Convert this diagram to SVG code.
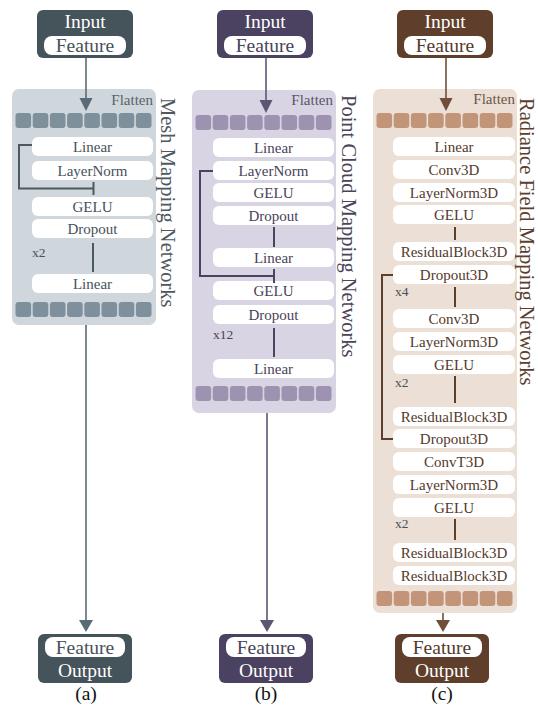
<svg xmlns="http://www.w3.org/2000/svg" xmlns:xlink="http://www.w3.org/1999/xlink" width="538" height="705" viewBox="0 0 538 705" font-family="'Liberation Serif', 'Times New Roman', serif">
<style>
text{font-family:'Liberation Serif','Times New Roman',serif;}
.blk{fill:#fff;}
.bt{font-size:15px;text-anchor:middle;}
.io{font-size:19.5px;text-anchor:middle;}
.wt{fill:#fff;}
.fl{font-size:15px;text-anchor:end;}
.rep{font-size:13.5px;}
.ttl{font-size:20.5px;}
.lab{font-size:19.5px;text-anchor:middle;fill:#111;}
.ta{fill:#46515a;} .tb{fill:#48425a;} .tc{fill:#54392b;}
.la{stroke:#4b5961;} .lb{stroke:#4b4460;} .lc{stroke:#5e3f2c;}
.ln{fill:none;stroke-width:2;}
.ar{fill:none;stroke-width:1.6;}
</style>
<defs>
<g id="row">
<rect x="0" y="0" width="15.6" height="15" rx="3"/>
<rect x="17.2" y="0" width="15.6" height="15" rx="3"/>
<rect x="34.4" y="0" width="15.6" height="15" rx="3"/>
<rect x="51.6" y="0" width="15.6" height="15" rx="3"/>
<rect x="68.8" y="0" width="15.6" height="15" rx="3"/>
<rect x="86" y="0" width="15.6" height="15" rx="3"/>
<rect x="103.2" y="0" width="15.6" height="15" rx="3"/>
<rect x="120.4" y="0" width="15.6" height="15" rx="3"/>
</g>
</defs>

<g id="panel-a">
<rect x="12" y="89" width="144" height="236" rx="7" fill="#cfd6dc"/>
<text class="fl" x="153" y="105" fill="#58646b">Flatten</text>
<use xlink:href="#row" x="15.5" y="113" fill="#7d909b"/>
<use xlink:href="#row" x="15.5" y="302" fill="#7d909b"/>
<text class="ttl" transform="translate(161,98) rotate(90)" fill="#4d585f">Mesh Mapping Networks</text>
<text class="rep ta" x="32" y="257">x2</text>
</g>
<g id="panel-b">
<rect x="192" y="90" width="144" height="323" rx="7" fill="#d9d4e3"/>
<text class="fl" x="333" y="105" fill="#5a5469">Flatten</text>
<use xlink:href="#row" x="195.5" y="115" fill="#9d93b1"/>
<use xlink:href="#row" x="195.5" y="386" fill="#9d93b1"/>
<text class="ttl" transform="translate(342,95) rotate(90)" fill="#4a4458">Point Cloud Mapping Networks</text>
<text class="rep tb" x="213" y="339">x12</text>
</g>
<g id="panel-c">
<rect x="373" y="89" width="144" height="524" rx="7" fill="#ebdfd6"/>
<text class="fl" x="515" y="104" fill="#6b5547">Flatten</text>
<use xlink:href="#row" x="376.5" y="113" fill="#c29579"/>
<use xlink:href="#row" x="376.5" y="591" fill="#c29579"/>
<text class="ttl" transform="translate(520,98) rotate(90)" fill="#5a3e2e">Radiance Field Mapping Networks</text>
<text class="rep ta" x="395" y="296">x4</text>
<text class="rep ta" x="395" y="387">x2</text>
<text class="rep ta" x="395" y="528">x2</text>
</g>

<g id="input-a">
<rect x="37" y="10" width="96" height="48" rx="6" fill="#45535b"/>
<text class="io wt" x="85" y="28">Input</text>
<rect x="44" y="36" width="82" height="19" rx="8" class="blk"/>
<text class="io ta" x="85" y="52">Feature</text>
</g>
<g id="input-b">
<rect x="217" y="10" width="96" height="48" rx="6" fill="#4b4262"/>
<text class="io wt" x="265" y="28">Input</text>
<rect x="224" y="36" width="82" height="19" rx="8" class="blk"/>
<text class="io tb" x="265" y="52">Feature</text>
</g>
<g id="input-c">
<rect x="397" y="10" width="96" height="48" rx="6" fill="#5f3f2b"/>
<text class="io wt" x="445" y="28">Input</text>
<rect x="404" y="36" width="82" height="19" rx="8" class="blk"/>
<text class="io tc" x="445" y="52">Feature</text>
</g>
<g id="output-a">
<rect x="38" y="634" width="94" height="49" rx="6" fill="#45535b"/>
<rect x="45" y="637" width="80" height="20" rx="8" class="blk"/>
<text class="io ta" x="85" y="654">Feature</text>
<text class="io wt" x="85" y="677">Output</text>
</g>
<g id="output-b">
<rect x="219" y="634" width="94" height="49" rx="6" fill="#4b4262"/>
<rect x="226" y="637" width="80" height="20" rx="8" class="blk"/>
<text class="io tb" x="266" y="654">Feature</text>
<text class="io wt" x="266" y="677">Output</text>
</g>
<g id="output-c">
<rect x="395" y="634" width="94" height="49" rx="6" fill="#5f3f2b"/>
<rect x="402" y="637" width="80" height="20" rx="8" class="blk"/>
<text class="io tc" x="442" y="654">Feature</text>
<text class="io wt" x="442" y="677">Output</text>
</g>

<g id="a-linear1"><rect class="blk" x="32" y="137" width="121" height="19" rx="6"/><text class="bt ta" x="92.5" y="151.5">Linear</text></g>
<g id="a-layernorm"><rect class="blk" x="32" y="161" width="121" height="19" rx="6"/><text class="bt ta" x="92.5" y="175.5">LayerNorm</text></g>
<g id="a-gelu"><rect class="blk" x="32" y="197" width="121" height="19" rx="6"/><text class="bt ta" x="92.5" y="211.5">GELU</text></g>
<g id="a-dropout"><rect class="blk" x="32" y="219" width="121" height="19" rx="6"/><text class="bt ta" x="92.5" y="233.5">Dropout</text></g>
<g id="a-linear2"><rect class="blk" x="32" y="274" width="121" height="19" rx="6"/><text class="bt ta" x="92.5" y="288.5">Linear</text></g>

<g id="b-linear1"><rect class="blk" x="213" y="138" width="121" height="19" rx="6"/><text class="bt tb" x="273.5" y="152.5">Linear</text></g>
<g id="b-layernorm"><rect class="blk" x="213" y="161" width="121" height="19" rx="6"/><text class="bt tb" x="273.5" y="175.5">LayerNorm</text></g>
<g id="b-gelu1"><rect class="blk" x="213" y="183" width="121" height="19" rx="6"/><text class="bt tb" x="273.5" y="197.5">GELU</text></g>
<g id="b-dropout1"><rect class="blk" x="213" y="206" width="121" height="19" rx="6"/><text class="bt tb" x="273.5" y="220.5">Dropout</text></g>
<g id="b-linear2"><rect class="blk" x="213" y="248" width="121" height="19" rx="6"/><text class="bt tb" x="273.5" y="262.5">Linear</text></g>
<g id="b-gelu2"><rect class="blk" x="213" y="281" width="121" height="19" rx="6"/><text class="bt tb" x="273.5" y="295.5">GELU</text></g>
<g id="b-dropout2"><rect class="blk" x="213" y="305" width="121" height="19" rx="6"/><text class="bt tb" x="273.5" y="319.5">Dropout</text></g>
<g id="b-linear3"><rect class="blk" x="213" y="359" width="121" height="19" rx="6"/><text class="bt tb" x="273.5" y="373.5">Linear</text></g>

<g id="c-linear"><rect class="blk" x="393" y="137" width="122" height="19" rx="6"/><text class="bt tc" x="454" y="151.5">Linear</text></g>
<g id="c-conv1"><rect class="blk" x="393" y="160" width="122" height="19" rx="6"/><text class="bt tc" x="454" y="174.5">Conv3D</text></g>
<g id="c-ln1"><rect class="blk" x="393" y="183" width="122" height="19" rx="6"/><text class="bt tc" x="454" y="197.5">LayerNorm3D</text></g>
<g id="c-gelu1"><rect class="blk" x="393" y="205" width="122" height="19" rx="6"/><text class="bt tc" x="454" y="219.5">GELU</text></g>
<g id="c-res1"><rect class="blk" x="393" y="242" width="122" height="19" rx="6"/><text class="bt tc" x="454" y="256.5">ResidualBlock3D</text></g>
<g id="c-drop1"><rect class="blk" x="393" y="265" width="122" height="19" rx="6"/><text class="bt tc" x="454" y="279.5">Dropout3D</text></g>
<g id="c-conv2"><rect class="blk" x="393" y="309" width="122" height="19" rx="6"/><text class="bt tc" x="454" y="323.5">Conv3D</text></g>
<g id="c-ln2"><rect class="blk" x="393" y="332" width="122" height="19" rx="6"/><text class="bt tc" x="454" y="346.5">LayerNorm3D</text></g>
<g id="c-gelu2"><rect class="blk" x="393" y="355" width="122" height="19" rx="6"/><text class="bt tc" x="454" y="369.5">GELU</text></g>
<g id="c-res2"><rect class="blk" x="393" y="407" width="122" height="19" rx="6"/><text class="bt tc" x="454" y="421.5">ResidualBlock3D</text></g>
<g id="c-drop2"><rect class="blk" x="393" y="429" width="122" height="19" rx="6"/><text class="bt tc" x="454" y="443.5">Dropout3D</text></g>
<g id="c-convt"><rect class="blk" x="393" y="452" width="122" height="19" rx="6"/><text class="bt tc" x="454" y="466.5">ConvT3D</text></g>
<g id="c-ln3"><rect class="blk" x="393" y="475" width="122" height="19" rx="6"/><text class="bt tc" x="454" y="489.5">LayerNorm3D</text></g>
<g id="c-gelu3"><rect class="blk" x="393" y="498" width="122" height="19" rx="6"/><text class="bt tc" x="454" y="512.5">GELU</text></g>
<g id="c-res3"><rect class="blk" x="393" y="543" width="122" height="19" rx="6"/><text class="bt tc" x="454" y="557.5">ResidualBlock3D</text></g>
<g id="c-res4"><rect class="blk" x="393" y="566" width="122" height="19" rx="6"/><text class="bt tc" x="454" y="580.5">ResidualBlock3D</text></g>

<g id="connectors">
<line class="ar" x1="86" y1="58" x2="86" y2="99" stroke="#5b6b75"/>
<polygon points="79.5,98 92.5,98 86,111" fill="#5b6b75"/>
<line class="ar" x1="86" y1="325" x2="86" y2="621" stroke="#5b6b75"/>
<polygon points="79,620 93,620 86,632" fill="#5b6b75"/>

<line class="ar" x1="266" y1="58" x2="266" y2="101" stroke="#5d5573"/>
<polygon points="259.5,100 272.5,100 266,113" fill="#5d5573"/>
<line class="ar" x1="267" y1="413" x2="267" y2="621" stroke="#5d5573"/>
<polygon points="260,620 274,620 267,632" fill="#5d5573"/>

<line class="ar" x1="446" y1="58" x2="446" y2="99" stroke="#6f4e3a"/>
<polygon points="439.5,98 452.5,98 446,111" fill="#6f4e3a"/>
<line class="ar" x1="443" y1="613" x2="443" y2="621" stroke="#6f4e3a"/>
<polygon points="436,620 450,620 443,632" fill="#6f4e3a"/>

<path class="ln la" d="M32,145 H19 V188.5 H93.5 M93.5,182 V195"/>
<line class="ln la" x1="93" y1="243" x2="93" y2="272"/>

<path class="ln lb" d="M213,171 H200 V276 H274 M274,269 V283"/>
<line class="ln lb" x1="274" y1="227" x2="274" y2="247"/>
<line class="ln lb" x1="274" y1="328" x2="274" y2="357"/>

<path class="ln lc" d="M393,275 H382 V439 H393"/>
<line class="ln lc" x1="455" y1="227" x2="455" y2="240"/>
<line class="ln lc" x1="455" y1="287" x2="455" y2="307"/>
<line class="ln lc" x1="455" y1="376" x2="455" y2="403"/>
<line class="ln lc" x1="455" y1="519" x2="455" y2="540"/>
</g>

<text class="lab" x="86" y="700">(a)</text>
<text class="lab" x="266" y="700">(b)</text>
<text class="lab" x="442" y="700">(c)</text>
</svg>
